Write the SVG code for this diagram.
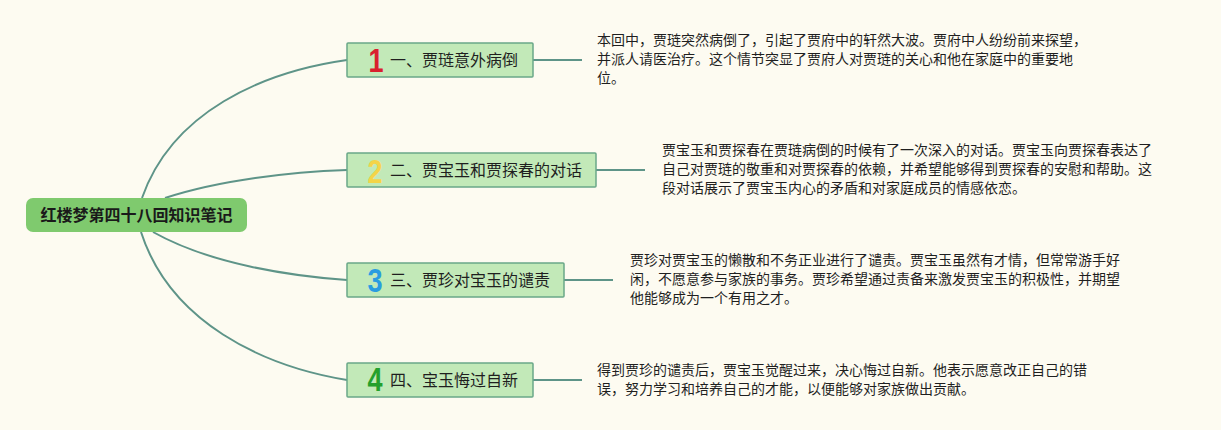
<svg xmlns="http://www.w3.org/2000/svg" width="1221" height="430" viewBox="0 0 1221 430">
<style>
.conn{fill:none;stroke:#5e9488;stroke-width:2}
.root{fill:#7fca6e}
.rootText{font-family:"Noto Sans CJK SC","Noto Sans",sans-serif;font-size:16px;font-weight:bold;fill:#1a1a1a}
.br{fill:#c2e9b8;stroke:#6aa888;stroke-width:1.5}
.brText{font-family:"Noto Sans CJK SC","Noto Sans",sans-serif;font-size:16px;fill:#1f1f1f}
.num{font-family:"Liberation Sans","Noto Sans",sans-serif;font-size:33px;font-weight:bold;text-anchor:middle}
.desc{font-family:"Noto Sans CJK SC","Noto Sans",sans-serif;font-size:14px;fill:#1f1f1f}
</style>
<rect width="1221" height="430" fill="#fdfbf1"/>
<g id="connectors">
<path class="conn" d="M142,198 C172,112 262,72 347,60"/>
<path class="conn" d="M165,198 C220,180 290,172 347,170"/>
<path class="conn" d="M153,232 C210,264 290,276 347,280"/>
<path class="conn" d="M141,232 C170,322 262,366 347,380"/>
<path class="conn" d="M533,60 H582"/>
<path class="conn" d="M596,170 H645"/>
<path class="conn" d="M564,280 H613"/>
<path class="conn" d="M533,380 H582"/>
</g>
<g id="root">
<rect class="root" x="26" y="198" width="221" height="34" rx="7"/>
<text class="rootText" x="136.5" y="221" text-anchor="middle">红楼梦第四十八回知识笔记</text>
</g>
<g id="branch1">
<rect class="br" x="347" y="43" width="186" height="34" rx="1"/>
<text class="num" transform="translate(376,72) scale(0.82,1)" fill="#d9202e">1</text>
<text class="brText" x="390" y="66">一、贾琏意外病倒</text>
</g>
<g id="branch2">
<rect class="br" x="347" y="153" width="249" height="34" rx="1"/>
<text class="num" transform="translate(375,183) scale(0.82,1)" fill="#f4d448">2</text>
<text class="brText" x="390" y="176">二、贾宝玉和贾探春的对话</text>
</g>
<g id="branch3">
<rect class="br" x="347" y="263" width="217" height="34" rx="1"/>
<text class="num" transform="translate(375,292) scale(0.82,1)" fill="#2a9ce0">3</text>
<text class="brText" x="390" y="286">三、贾珍对宝玉的谴责</text>
</g>
<g id="branch4">
<rect class="br" x="347" y="363" width="186" height="34" rx="1"/>
<text class="num" transform="translate(375,391) scale(0.82,1)" fill="#24a02c">4</text>
<text class="brText" x="390" y="386">四、宝玉悔过自新</text>
</g>
<g id="desc1">
<text class="desc" x="597" y="45">本回中，贾琏突然病倒了，引起了贾府中的轩然大波。贾府中人纷纷前来探望，</text>
<text class="desc" x="597" y="64">并派人请医治疗。这个情节突显了贾府人对贾琏的关心和他在家庭中的重要地</text>
<text class="desc" x="597" y="83">位。</text>
</g>
<g id="desc2">
<text class="desc" x="662" y="155">贾宝玉和贾探春在贾琏病倒的时候有了一次深入的对话。贾宝玉向贾探春表达了</text>
<text class="desc" x="662" y="174">自己对贾琏的敬重和对贾探春的依赖，并希望能够得到贾探春的安慰和帮助。这</text>
<text class="desc" x="662" y="193">段对话展示了贾宝玉内心的矛盾和对家庭成员的情感依恋。</text>
</g>
<g id="desc3">
<text class="desc" x="630" y="265">贾珍对贾宝玉的懒散和不务正业进行了谴责。贾宝玉虽然有才情，但常常游手好</text>
<text class="desc" x="630" y="284">闲，不愿意参与家族的事务。贾珍希望通过责备来激发贾宝玉的积极性，并期望</text>
<text class="desc" x="630" y="303">他能够成为一个有用之才。</text>
</g>
<g id="desc4">
<text class="desc" x="597" y="375">得到贾珍的谴责后，贾宝玉觉醒过来，决心悔过自新。他表示愿意改正自己的错</text>
<text class="desc" x="597" y="394">误，努力学习和培养自己的才能，以便能够对家族做出贡献。</text>
</g>
</svg>
